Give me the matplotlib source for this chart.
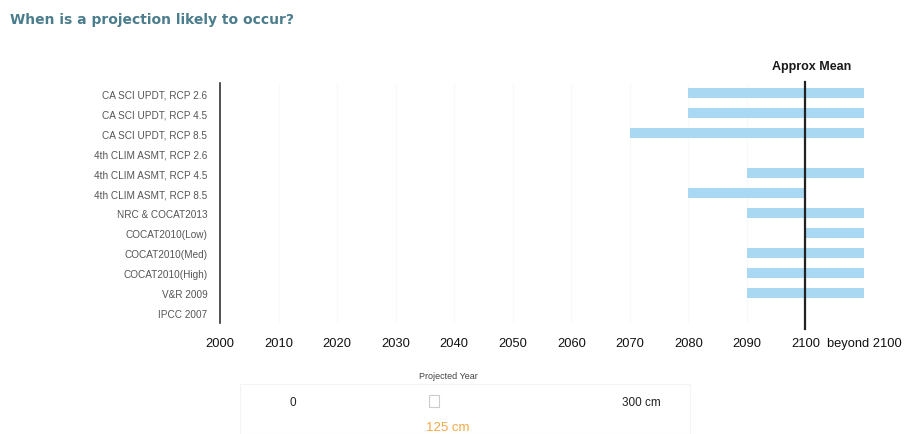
import matplotlib
matplotlib.use("Agg")
import matplotlib.pyplot as plt
from matplotlib.patches import Rectangle

# Projection sources and the window of years each places the projected rise in
sources = [
    "CA SCI UPDT, RCP 2.6",
    "CA SCI UPDT, RCP 4.5",
    "CA SCI UPDT, RCP 8.5",
    "4th CLIM ASMT, RCP 2.6",
    "4th CLIM ASMT, RCP 4.5",
    "4th CLIM ASMT, RCP 8.5",
    "NRC & COCAT2013",
    "COCAT2010(Low)",
    "COCAT2010(Med)",
    "COCAT2010(High)",
    "V&R 2009",
    "IPCC 2007",
]
# 2110 stands for "beyond 2100"; None means no projection reaches the level
start_year = [2080, 2080, 2070, None, 2090, 2080, 2090, 2100, 2090, 2090, 2090, None]
end_year = [2110, 2110, 2110, None, 2110, 2100, 2110, 2110, 2110, 2110, 2110, None]

tick_years = [2000, 2010, 2020, 2030, 2040, 2050, 2060, 2070, 2080, 2090, 2100, 2110]
tick_labels = ["2000", "2010", "2020", "2030", "2040", "2050", "2060", "2070",
               "2080", "2090", "2100", "beyond 2100"]
mean_year = 2100

W, H = 912, 435
fig = plt.figure(figsize=(W / 100, H / 100), dpi=100)
fig.patch.set_facecolor("white")
plt.rcParams["font.family"] = ["Liberation Sans", "DejaVu Sans"]

left, right, top, bottom = 220, 864, 84, 324
ax = fig.add_axes([left / W, 1 - bottom / H, (right - left) / W, (bottom - top) / H])

for i, (s, e) in enumerate(zip(start_year, end_year)):
    if s is None:
        continue
    ax.barh(i, e - s, left=s, height=0.5, color="#a9d8f2", edgecolor="none", zorder=2)

# faint decade guides
for yr in tick_years[1:-1]:
    ax.axvline(yr, color="#f9f9f9", lw=0.8, zorder=0)

ax.set_xlim(2000, 2110)
ax.set_ylim(len(sources) - 0.5, -0.5)
ax.set_yticks(range(len(sources)))
ax.set_yticklabels(sources, fontsize=7.2, color="#555555")
ax.set_xticks(tick_years)
ax.set_xticklabels(tick_labels, fontsize=9.3, color="#111111")
ax.tick_params(axis="both", length=0)
ax.tick_params(axis="y", pad=9)
ax.tick_params(axis="x", pad=10)
for side in ("top", "right", "bottom"):
    ax.spines[side].set_visible(False)
ax.spines["left"].set_color("#333333")
ax.spines["left"].set_linewidth(1.2)

# approximate mean marker
ax.axvline(mean_year, ymin=(bottom - 330) / (bottom - top), ymax=(bottom - 83) / (bottom - top),
           color="#222222", lw=1.6, clip_on=False, zorder=3)
fig.text(812 / W, 1 - 67 / H, "Approx Mean", fontsize=9, fontweight="bold",
         color="#1a1a1a", ha="center", va="center")

fig.text(10 / W, 1 - 20 / H, "When is a projection likely to occur?", fontsize=10,
         fontweight="bold", color="#4b7d8c", ha="left", va="center",
         family=["DejaVu Sans"])

# sea level slider
fig.patches.append(Rectangle((240 / W, 0), 450 / W, 50 / H, transform=fig.transFigure,
                             facecolor="none", edgecolor="#f4f4f4", lw=0.8))
fig.text(448 / W, 1 - 377 / H, "Projected Year", fontsize=6.5, color="#444444",
         ha="center", va="center")
fig.text(293 / W, 1 - 403 / H, "0", fontsize=8.5, color="#222222", ha="center", va="center")
fig.text(641 / W, 1 - 403 / H, "300 cm", fontsize=8.5, color="#222222", ha="center", va="center")
fig.patches.append(Rectangle((429 / W, 1 - 408 / H), 10 / W, 12 / H, transform=fig.transFigure,
                             facecolor="white", edgecolor="#cccccc", lw=0.8))
fig.text(448 / W, 1 - 428 / H, "125 cm", fontsize=9.5, color="#f4a848", ha="center", va="center")

fig.savefig("out.png", dpi=100, facecolor="white")
